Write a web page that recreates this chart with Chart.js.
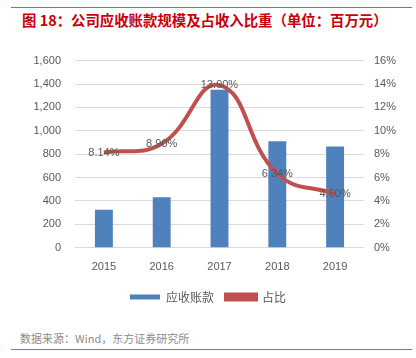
<!DOCTYPE html>
<html>
<head>
<meta charset="utf-8">
<script src="https://cdn.jsdelivr.net/npm/chart.js@4.4.1/dist/chart.umd.min.js"></script>
<style>
  body { margin: 0; background: #fff; font-family: "Noto Sans CJK SC", sans-serif; }
  #wrap { position: relative; width: 416px; height: 358px; overflow: hidden; }
  .rule { position: absolute; left: 11px; width: 401px; height: 1px; background: #d9534f; }
  #title { position: absolute; left: 22px; top: 9px; font-size: 14.4px; font-weight: bold; color: #c8000a; white-space: nowrap; }
  #box { position: absolute; left: 0; top: 40px; width: 416px; height: 273px; }
  #source { position: absolute; left: 20px; top: 330px; font-size: 11px; color: #8c8c8c; }
</style>
</head>
<body>
<div id="wrap">
  <div class="rule" style="top:7px"></div>
  <div id="title">图 18：公司应收账款规模及占收入比重（单位：百万元）</div>
  <div id="box"><canvas id="myChart"></canvas></div>
  <div id="source">数据来源：Wind，东方证券研究所</div>
  <div class="rule" style="top:349px"></div>
</div>
<script>
const years = ['2015', '2016', '2017', '2018', '2019']
const receivables = [325, 432, 1350, 911, 865]   // 应收账款，百万元
const ratio = [8.14, 8.90, 13.90, 6.34, 4.60]     // 占比 %
const ratioLabels = ['8.14%', '8.90%', '13.90%', '6.34%', '4.60%']

const grey = '#595959'

// 在折线点上写百分比
const pointLabels = {
  id: 'pointLabels',
  afterDatasetsDraw(chart) {
    const ctx = chart.ctx
    const meta = chart.getDatasetMeta(1)
    ctx.save()
    ctx.font = '11px "Liberation Sans", Arial, sans-serif'
    ctx.fillStyle = grey
    ctx.textAlign = 'center'
    ctx.textBaseline = 'middle'
    meta.data.forEach((pt, i) => {
      ctx.fillText(ratioLabels[i], pt.x, pt.y)
    })
    ctx.restore()
  }
}

const config = {
  data: {
    labels: years,
    datasets: [
      {
        type: 'bar',
        label: '应收账款',
        data: receivables,
        backgroundColor: '#4f81bd',
        borderColor: '#4f81bd',
        categoryPercentage: 1,
        barPercentage: 0.31,
        yAxisID: 'y',
        order: 2
      },
      {
        type: 'line',
        label: '占比',
        data: ratio,
        borderColor: '#c0504d',
        backgroundColor: '#c0504d',
        borderWidth: 4,
        tension: 0.45,
        pointRadius: 0,
        yAxisID: 'y1',
        order: 1
      }
    ]
  },
  options: {
    responsive: true,
    maintainAspectRatio: false,
    animation: false,
    layout: { padding: { top: 20, left: 0, right: 0, bottom: 0 } },
    plugins: {
      tooltip: { enabled: false },
      legend: {
        position: 'bottom',
        labels: {
          boxWidth: 30,
          boxHeight: 5,
          padding: 12,
          color: grey,
          font: { size: 12, family: '"Noto Sans CJK SC", sans-serif' },
          sort: (a, b) => a.datasetIndex - b.datasetIndex
        }
      }
    },
    scales: {
      x: {
        grid: { display: false },
        border: { display: false },
        ticks: { color: grey, font: { size: 11, family: '"Liberation Sans", Arial' }, padding: 5 }
      },
      y: {
        position: 'left',
        min: 0, max: 1600,
        ticks: {
          stepSize: 200, color: grey, padding: 14,
          font: { size: 11, family: '"Liberation Sans", Arial' },
          callback: v => v.toLocaleString('en-US')
        },
        grid: { color: '#d9d9d9', drawTicks: false },
        border: { display: false },
        afterFit: s => { s.width = 75 }
      },
      y1: {
        position: 'right',
        min: 0, max: 16,
        ticks: {
          stepSize: 2, color: grey, padding: 10,
          font: { size: 11, family: '"Liberation Sans", Arial' },
          callback: v => v + '%'
        },
        grid: { display: false, drawTicks: false },
        border: { display: false },
        afterFit: s => { s.width = 52 }
      }
    }
  },
  plugins: [pointLabels]
}

new Chart(document.getElementById('myChart'), config)
</script>
</body>
</html>
